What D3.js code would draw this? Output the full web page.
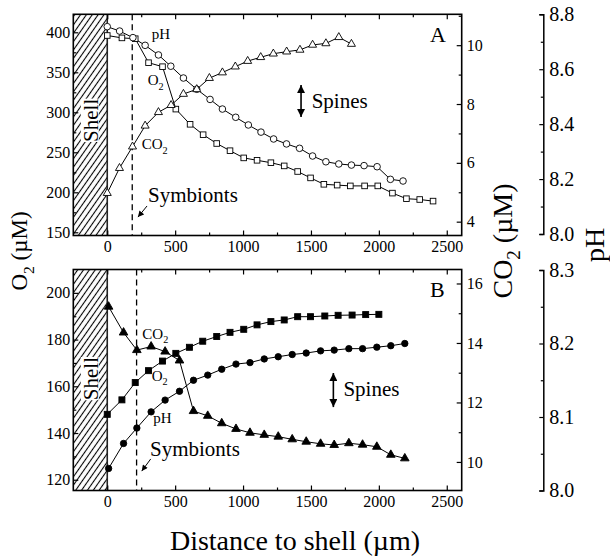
<!doctype html>
<html>
<head>
<meta charset="utf-8">
<title>O2, CO2 and pH profiles near the shell</title>
<script src="https://d3js.org/d3.v7.min.js"></script>
<style>
  body { margin: 0; background: #fff; }
  svg, svg text, svg tspan { font-family: 'Liberation Serif', 'DejaVu Serif', serif; }
  svg text { fill: #000; }
  .tick text { font-size: 16px; }
  .tick line, .domain { stroke: #000; }
  .ph-axis .tick text { font-size: 20px; }
  .series { fill: none; stroke: #000; stroke-width: 1px; }
</style>
</head>
<body>
<div id="chart"></div>
<script>
// ---- Panel A (open symbols) ----
var xA_o2 = [0, 108, 206, 304, 407, 505, 610, 706, 806, 904, 1005, 1103, 1205, 1303, 1402, 1497, 1595, 1693, 1790, 1895, 1992, 2100, 2203, 2301, 2399];
var o2A   = [396, 393, 392, 362, 357, 304, 285, 272, 261, 252, 243, 240, 237, 233, 226, 218, 210, 209, 208, 208, 208, 199, 192, 191, 189];

var xA_ph = [0, 91, 189, 279, 377, 468, 561, 659, 757, 848, 946, 1039, 1132, 1225, 1320, 1416, 1512, 1610, 1705, 1798, 1891, 1987, 2085, 2178];
var phA   = [8.755, 8.739, 8.715, 8.687, 8.652, 8.611, 8.568, 8.527, 8.490, 8.455, 8.425, 8.397, 8.371, 8.346, 8.328, 8.312, 8.284, 8.263, 8.255, 8.251, 8.249, 8.245, 8.199, 8.193];

var xA_co2 = [0, 90, 186, 279, 377, 470, 561, 659, 752, 848, 943, 1034, 1130, 1223, 1321, 1419, 1512, 1610, 1705, 1798];
var co2A   = [4.97, 5.82, 6.55, 7.26, 7.72, 7.96, 8.34, 8.50, 8.88, 9.07, 9.27, 9.46, 9.59, 9.71, 9.78, 9.84, 10.01, 10.06, 10.27, 10.04];

// ---- Panel B (filled symbols) ----
var xB_o2 = [0, 108, 206, 304, 407, 505, 605, 703, 806, 904, 1005, 1103, 1205, 1303, 1402, 1497, 1602, 1700, 1803, 1903, 2000];
var o2B   = [148.0, 154.2, 161.6, 166.7, 170.8, 174.1, 176.7, 179.3, 181.3, 183.1, 184.4, 186.3, 187.7, 188.4, 189.8, 189.8, 190.1, 190.4, 190.5, 190.7, 190.8];

var xB_ph = [10, 120, 218, 323, 426, 532, 635, 740, 843, 948, 1051, 1156, 1259, 1362, 1465, 1571, 1671, 1779, 1880, 1985, 2088, 2191];
var phB   = [8.030, 8.064, 8.085, 8.107, 8.123, 8.135, 8.150, 8.157, 8.165, 8.172, 8.174, 8.179, 8.182, 8.185, 8.187, 8.190, 8.191, 8.193, 8.193, 8.195, 8.197, 8.200];
var co2B  = [15.22, 14.35, 13.76, 13.88, 13.71, 13.41, 11.71, 11.55, 11.30, 11.11, 10.98, 10.91, 10.85, 10.76, 10.68, 10.61, 10.57, 10.63, 10.58, 10.51, 10.24, 10.12];

// ---- ticks ----
var xTicks = [0, 500, 1000, 1500, 2000, 2500];
var xMinor = [250, 750, 1250, 1750, 2250];
var o2TicksA = [150, 200, 250, 300, 350, 400], o2MinorA = [175, 225, 275, 325, 375];
var co2TicksA = [4, 6, 8, 10], co2MinorA = [5, 7, 9, 11];
var phTicksA = [8.0, 8.2, 8.4, 8.6, 8.8], phMinorA = [8.1, 8.3, 8.5, 8.7];
var o2TicksB = [120, 140, 160, 180, 200], o2MinorB = [130, 150, 170, 190];
var co2TicksB = [10, 12, 14, 16], co2MinorB = [11, 13, 15];
var phTicksB = [8.0, 8.1, 8.2, 8.3], phMinorB = [8.05, 8.15, 8.25];

var serif = "'Liberation Serif', 'DejaVu Serif', serif";
var width = 610, height = 558;
var left = 73.3, right = 461.7, phAxisX = 543.3;

var svg = d3.select("#chart").append("svg")
    .attr("width", width)
    .attr("height", height)
    .attr("font-family", serif);

var defs = svg.append("defs");

// diagonal hatching for the shell
var hatch = defs.append("pattern")
    .attr("id", "hatch")
    .attr("patternUnits", "userSpaceOnUse")
    .attr("width", 4.8).attr("height", 10)
    .attr("patternTransform", "rotate(35)");
hatch.append("rect").attr("width", 4.8).attr("height", 10).attr("fill", "#fff");
hatch.append("line")
    .attr("x1", 2.4).attr("y1", 0).attr("x2", 2.4).attr("y2", 10)
    .attr("stroke", "#000").attr("stroke-width", 1.1);

// arrow heads
defs.append("marker")
    .attr("id", "smallHead")
    .attr("markerUnits", "userSpaceOnUse")
    .attr("viewBox", "0 0 10 10")
    .attr("refX", 10).attr("refY", 5)
    .attr("markerWidth", 7).attr("markerHeight", 6)
    .attr("orient", "auto")
  .append("path").attr("d", "M0,0 L10,5 L0,10 z").attr("fill", "#000");

defs.append("marker")
    .attr("id", "bigHead")
    .attr("markerUnits", "userSpaceOnUse")
    .attr("viewBox", "0 0 10 10")
    .attr("refX", 10).attr("refY", 5)
    .attr("markerWidth", 10).attr("markerHeight", 8)
    .attr("orient", "auto-start-reverse")
  .append("path").attr("d", "M0,0 L10,5 L0,10 z").attr("fill", "#000");

var x = d3.scaleLinear().domain([-250, 2610]).range([left, right]);

// text with a subscript part, e.g. [["CO"], ["2", true], [" (µM)"]]
function richText(sel, parts, size) {
  var shift = size * 0.3;
  var down = false;
  sel.attr("font-family", serif);
  parts.forEach(function(p) {
    var t = sel.append("tspan").text(p[0]);
    if (p[1]) {
      t.attr("font-size", size * 0.68).attr("dy", shift);
      down = true;
    } else {
      if (down) { t.attr("dy", -shift); down = false; }
      t.attr("font-size", size);
    }
  });
  return sel;
}

function drawPanel(cfg) {
  var g = svg.append("g");
  var top = cfg.top, bottom = cfg.bottom;

  var yO2 = d3.scaleLinear().domain(cfg.o2Domain).range([bottom, top]);
  var yCO2 = d3.scaleLinear().domain(cfg.co2Domain).range([bottom, top]);
  var yPH = d3.scaleLinear().domain(cfg.phDomain).range(cfg.phRange);

  // shell
  g.append("rect")
      .attr("x", x(-250)).attr("y", top)
      .attr("width", x(0) - x(-250)).attr("height", bottom - top)
      .attr("fill", "url(#hatch)");
  g.append("line")
      .attr("x1", x(0)).attr("x2", x(0))
      .attr("y1", top).attr("y2", bottom)
      .attr("stroke", "#222").attr("stroke-width", 1.6);

  var shellY = yO2(cfg.shellY);
  var shellBg = g.append("rect").attr("fill", "#fff");
  var shell = g.append("text")
      .attr("transform", "translate(" + (x(-125) + 7.5) + "," + shellY + ") rotate(-90)")
      .attr("text-anchor", "middle")
      .attr("font-family", serif)
      .attr("font-size", 21)
      .text("Shell");
  var bb = shell.node().getBBox();
  shellBg.attr("x", x(-125) + 7.5 + bb.y + 2)
      .attr("y", shellY - bb.width / 2)
      .attr("width", bb.height - 6)
      .attr("height", bb.width);

  // symbionts boundary
  g.append("line")
      .attr("x1", x(cfg.symX)).attr("x2", x(cfg.symX))
      .attr("y1", top).attr("y2", bottom)
      .attr("stroke", "#000").attr("stroke-width", 1.3)
      .attr("stroke-dasharray", "6,4");

  // series
  var o2 = cfg.xO2.map(function(d, i) { return [d, cfg.o2[i]]; });
  var ph = cfg.xPH.map(function(d, i) { return [d, cfg.ph[i]]; });
  var co2 = cfg.xCO2.map(function(d, i) { return [d, cfg.co2[i]]; });

  var fill = cfg.filled ? "#000" : "#fff";

  function series(data, yScale) {
    g.append("path")
        .datum(data)
        .attr("class", "series")
        .attr("d", d3.line()
            .x(function(d) { return x(d[0]); })
            .y(function(d) { return yScale(d[1]); }));
  }
  series(o2, yO2);
  series(ph, yPH);
  series(co2, yCO2);

  var s = cfg.filled ? 6 : 5.6;
  g.selectAll(".sq").data(o2).join("rect")
      .attr("x", function(d) { return x(d[0]) - s / 2; })
      .attr("y", function(d) { return yO2(d[1]) - s / 2; })
      .attr("width", s).attr("height", s)
      .attr("fill", fill).attr("stroke", "#000").attr("stroke-width", 0.9);

  g.selectAll(".ci").data(ph).join("circle")
      .attr("cx", function(d) { return x(d[0]); })
      .attr("cy", function(d) { return yPH(d[1]); })
      .attr("r", cfg.filled ? 3.2 : 3.3)
      .attr("fill", fill).attr("stroke", "#000").attr("stroke-width", 0.9);

  var tri = d3.symbol().type(d3.symbolTriangle).size(cfg.filled ? 32 : 28);
  g.selectAll(".tr").data(co2).join("path")
      .attr("transform", function(d) { return "translate(" + x(d[0]) + "," + yCO2(d[1]) + ")"; })
      .attr("d", tri)
      .attr("fill", fill).attr("stroke", "#000").attr("stroke-width", 0.9);

  // series labels
  cfg.labels.forEach(function(l) {
    richText(g.append("text")
        .attr("x", x(l.x)).attr("y", yO2(l.y)), l.parts, 15);
  });

  // symbionts note
  g.append("text")
      .attr("x", x(cfg.sym.x)).attr("y", yO2(cfg.sym.y))
      .attr("font-family", serif)
      .attr("font-size", 21)
      .text("Symbionts");
  g.append("line")
      .attr("x1", x(cfg.symArrow[0])).attr("y1", yO2(cfg.symArrow[1]))
      .attr("x2", x(cfg.symArrow[2])).attr("y2", yO2(cfg.symArrow[3]))
      .attr("stroke", "#000").attr("stroke-width", 1)
      .attr("marker-end", "url(#smallHead)");

  // spines note
  g.append("line")
      .attr("x1", x(cfg.spineArrow[0])).attr("y1", yO2(cfg.spineArrow[1]))
      .attr("x2", x(cfg.spineArrow[0])).attr("y2", yO2(cfg.spineArrow[2]))
      .attr("stroke", "#000").attr("stroke-width", 1.6)
      .attr("marker-start", "url(#bigHead)")
      .attr("marker-end", "url(#bigHead)");
  g.append("text")
      .attr("x", x(cfg.spines.x)).attr("y", yO2(cfg.spines.y))
      .attr("font-family", serif)
      .attr("font-size", 21)
      .text("Spines");

  // panel letter
  g.append("text")
      .attr("x", x(cfg.letterPos.x)).attr("y", yO2(cfg.letterPos.y))
      .attr("font-family", serif)
      .attr("font-size", 22)
      .text(cfg.letter);

  // frame
  g.append("rect")
      .attr("x", left).attr("y", top)
      .attr("width", right - left).attr("height", bottom - top)
      .attr("fill", "none").attr("stroke", "#000").attr("stroke-width", 1.6);

  function clean(a) {
    a.attr("font-family", serif);
    a.select(".domain").remove();
    a.selectAll(".tick line").attr("stroke-width", 1.2);
  }

  // x axes (bottom with labels, top ticks only)
  g.append("g").attr("transform", "translate(0," + bottom + ")")
      .call(d3.axisBottom(x).tickValues(xTicks).tickSize(-5).tickPadding(5).tickFormat(d3.format("d")))
      .call(clean);
  g.append("g").attr("transform", "translate(0," + bottom + ")")
      .call(d3.axisBottom(x).tickValues(xMinor).tickSize(-3).tickFormat(""))
      .call(clean);
  g.append("g").attr("transform", "translate(0," + top + ")")
      .call(d3.axisTop(x).tickValues(xTicks).tickSize(-5).tickFormat(""))
      .call(clean);
  g.append("g").attr("transform", "translate(0," + top + ")")
      .call(d3.axisTop(x).tickValues(xMinor).tickSize(-3).tickFormat(""))
      .call(clean);

  // O2 axis (left)
  g.append("g").attr("transform", "translate(" + left + ",0)")
      .call(d3.axisLeft(yO2).tickValues(cfg.o2Ticks).tickSize(-5).tickPadding(3))
      .call(clean);
  g.append("g").attr("transform", "translate(" + left + ",0)")
      .call(d3.axisLeft(yO2).tickValues(cfg.o2Minor).tickSize(-3).tickFormat(""))
      .call(clean);

  // CO2 axis (right)
  g.append("g").attr("transform", "translate(" + right + ",0)")
      .call(d3.axisRight(yCO2).tickValues(cfg.co2Ticks).tickSize(-5).tickPadding(5))
      .call(clean);
  g.append("g").attr("transform", "translate(" + right + ",0)")
      .call(d3.axisRight(yCO2).tickValues(cfg.co2Minor).tickSize(-3).tickFormat(""))
      .call(clean);

  // pH axis (detached, far right)
  var pa = g.append("g").attr("class", "ph-axis").attr("transform", "translate(" + phAxisX + ",0)")
      .call(d3.axisRight(yPH).tickValues(cfg.phTicks).tickSize(-4).tickSizeOuter(-4).tickPadding(6)
          .tickFormat(d3.format(".1f")));
  pa.attr("font-family", serif);
  pa.select(".domain").attr("stroke-width", 1.5);
  pa.selectAll(".tick line").attr("stroke-width", 1.2);
  g.append("g").attr("transform", "translate(" + phAxisX + ",0)")
      .call(d3.axisRight(yPH).tickValues(cfg.phMinor).tickSize(-2.5).tickFormat(""))
      .call(clean);
}

drawPanel({
  letter: "A", filled: false, top: 14.3, bottom: 235.5,
  o2Domain: [146, 422.5], co2Domain: [3.53, 11.05], phDomain: [8.0, 8.8], phRange: [234, 14.3],
  xO2: xA_o2, o2: o2A, xPH: xA_ph, ph: phA, xCO2: xA_co2, co2: co2A,
  o2Ticks: o2TicksA, o2Minor: o2MinorA, co2Ticks: co2TicksA, co2Minor: co2MinorA,
  phTicks: phTicksA, phMinor: phMinorA,
  symX: 184, shellY: 290,
  labels: [
    {x: 327, y: 391.6, parts: [["pH"]]},
    {x: 298, y: 334, parts: [["O"], ["2", true]]},
    {x: 254, y: 253.8, parts: [["CO"], ["2", true]]}
  ],
  sym: {x: 300, y: 187.9}, symArrow: [293, 182.9, 226, 169],
  spineArrow: [1427, 334, 294.1], spines: {x: 1505, y: 305.4},
  letterPos: {x: 2377, y: 387.9}
});

drawPanel({
  letter: "B", filled: true, top: 269.5, bottom: 490.5,
  o2Domain: [115.4, 210], co2Domain: [9.04, 16.47], phDomain: [8.0, 8.3], phRange: [490.5, 270],
  xO2: xB_o2, o2: o2B, xPH: xB_ph, ph: phB, xCO2: xB_ph, co2: co2B,
  o2Ticks: o2TicksB, o2Minor: o2MinorB, co2Ticks: co2TicksB, co2Minor: co2MinorB,
  phTicks: phTicksB, phMinor: phMinorB,
  symX: 216, shellY: 163.3,
  labels: [
    {x: 258, y: 180.3, parts: [["CO"], ["2", true]]},
    {x: 327, y: 162.4, parts: [["O"], ["2", true]]},
    {x: 339, y: 144.2, parts: [["pH"]]}
  ],
  sym: {x: 315, y: 130.0}, symArrow: [320, 128.9, 254, 123.7],
  spineArrow: [1665, 165.7, 151.1], spines: {x: 1739, y: 155.9},
  letterPos: {x: 2377, y: 198.2}
});

// axis titles
richText(svg.append("text")
    .attr("transform", "translate(27,251) rotate(-90)")
    .attr("text-anchor", "middle"),
  [["O"], ["2", true], [" (\u00b5M)"]], 23);

richText(svg.append("text")
    .attr("transform", "translate(512,241) rotate(-90)")
    .attr("text-anchor", "middle"),
  [["CO"], ["2", true], [" (\u00b5M)"]], 28);

svg.append("text")
    .attr("transform", "translate(604,245) rotate(-90)")
    .attr("text-anchor", "middle")
    .attr("font-family", serif)
    .attr("font-size", 28)
    .text("pH");

svg.append("text")
    .attr("x", 295).attr("y", 550)
    .attr("text-anchor", "middle")
    .attr("font-family", serif)
    .attr("font-size", 28)
    .text("Distance to shell (\u00b5m)");
</script>
</body>
</html>
